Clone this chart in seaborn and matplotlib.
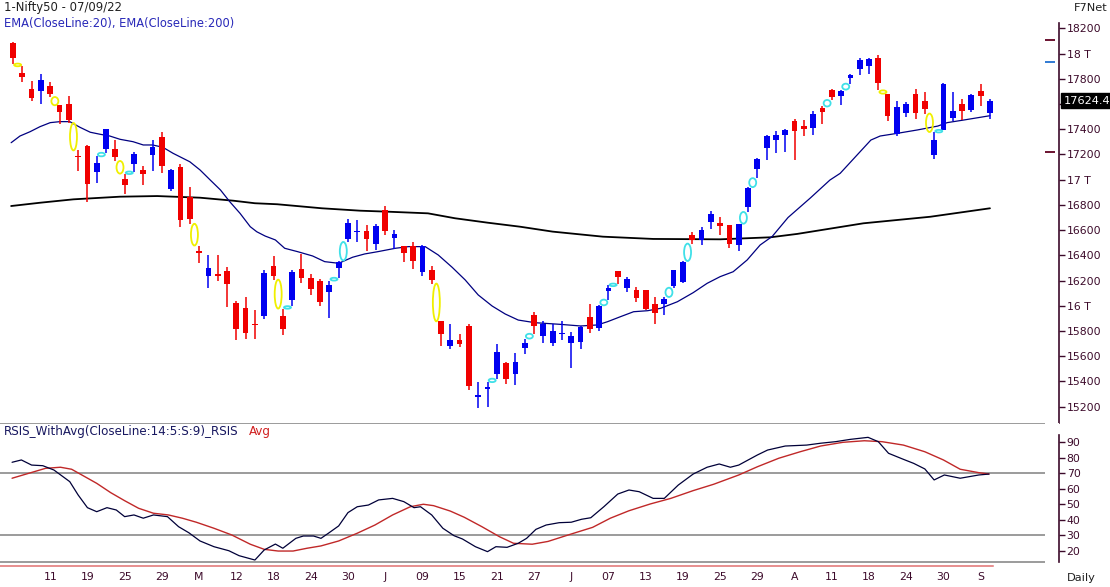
import numpy as np
import matplotlib
matplotlib.use("Agg")
import matplotlib.pyplot as plt
import matplotlib.transforms as mtransforms
from matplotlib.patches import Ellipse
import seaborn as sns

# ---------------- data (Nifty50 daily, 05-Apr-2022 .. 07-Sep-2022) ----------------
opens = [18083, 17845, 17722, 17703, 17740, 17590, 17603, 17188, 17264, 17058,
         17240, 17245, 17008, 17127, 17074, 17193, 17338, 16922, 17101, 16862,
         16431, 16234, 16249, 16275, 16020, 15980, 15853, 15916, 16319, 15916,
         16047, 16290, 16222, 16200, 16109, 16303, 16533, 16588, 16592, 16493,
         16762, 16541, 16471, 16478, 16267, 16287, 15877, 15681, 15732, 15837,
         15277, 15343, 15459, 15543, 15459, 15665, 15930, 15760, 15705, 15777,
         15705, 15713, 15911, 15827, 16117, 16273, 16141, 16128, 16128, 16017,
         16017, 16154, 16188, 16563, 16523, 16664, 16659, 16637, 16485, 16782,
         17087, 17251, 17317, 17357, 17462, 17423, 17409, 17566, 17714, 17663,
         17809, 17880, 17901, 17968, 17682, 17365, 17531, 17682, 17621, 17198,
         17397, 17489, 17597, 17550, 17700, 17528]
highs = [18089, 17899, 17780, 17835, 17774, 17590, 17661, 17232, 17272, 17185,
         17404, 17312, 17048, 17219, 17105, 17317, 17378, 17085, 17125, 16941,
         16478, 16400, 16400, 16306, 16037, 16073, 15968, 16281, 16391, 15978,
         16281, 16414, 16254, 16216, 16200, 16359, 16692, 16682, 16642, 16652,
         16789, 16604, 16478, 16505, 16485, 16319, 15877, 15853, 15780, 15859,
         15395, 15395, 15697, 15554, 15625, 15740, 15953, 15883, 15858, 15877,
         15792, 15843, 16017, 16004, 16162, 16276, 16228, 16149, 16128, 16070,
         16070, 16287, 16355, 16585, 16623, 16749, 16704, 16642, 16651, 16941,
         17171, 17351, 17383, 17399, 17484, 17470, 17542, 17580, 17719, 17714,
         17840, 17964, 17964, 17986, 17682, 17621, 17615, 17722, 17695, 17378,
         17769, 17695, 17637, 17677, 17756, 17642]
lows = [17920, 17774, 17623, 17603, 17655, 17444, 17449, 17068, 16823, 16974,
        17213, 17148, 16884, 17061, 16955, 17068, 17053, 16914, 16624, 16650,
        16340, 16142, 16197, 15990, 15730, 15737, 15737, 15898, 16207, 15766,
        15996, 16182, 16083, 15996, 15905, 16222, 16506, 16506, 16433, 16439,
        16558, 16452, 16347, 16289, 16240, 16176, 15681, 15660, 15673, 15330,
        15189, 15197, 15422, 15377, 15369, 15621, 15778, 15705, 15681, 15730,
        15507, 15660, 15784, 15800, 16049, 16170, 16109, 16028, 15963, 15858,
        15930, 16143, 16180, 16493, 16480, 16612, 16558, 16458, 16432, 16744,
        17012, 17159, 17211, 17219, 17159, 17346, 17357, 17442, 17632, 17589,
        17761, 17833, 17841, 17708, 17465, 17343, 17497, 17478, 17524, 17167,
        17391, 17463, 17470, 17536, 17581, 17484]
closes = [17964, 17814, 17647, 17788, 17676, 17537, 17476, 17180, 16963, 17135,
          17399, 17179, 16955, 17201, 17042, 17256, 17105, 17074, 16677, 16685,
          16423, 16302, 16240, 16169, 15817, 15782, 15845, 16262, 16240, 15813,
          16267, 16222, 16135, 16028, 16168, 16351, 16660, 16593, 16526, 16630,
          16592, 16573, 16418, 16359, 16478, 16208, 15774, 15732, 15694, 15362,
          15296, 15356, 15630, 15422, 15556, 15705, 15840, 15858, 15798, 15785,
          15758, 15835, 15819, 15996, 16141, 16228, 16215, 16061, 15976, 15943,
          16057, 16281, 16347, 16523, 16602, 16725, 16632, 16493, 16645, 16936,
          17161, 17343, 17351, 17391, 17386, 17402, 17523, 17535, 17659, 17700,
          17827, 17946, 17960, 17766, 17502, 17576, 17603, 17528, 17558, 17312,
          17761, 17542, 17544, 17669, 17663, 17624.4]

ema20_x = [-0.2, 0.75, 1.83, 2.9, 4.0, 5.05, 6.1, 7.2, 8.3, 9.35, 10.4, 11.5, 12.9, 14.0, 15.0,
           16.1, 17.2, 19.0, 20.1, 21.2, 22.3, 23.3, 24.4, 25.5, 26.2, 27.1, 28.2, 29.2, 30.6,
           32.2, 33.5, 35.0, 36.5, 37.8, 39.2, 41.1, 42.5, 44.3, 45.7, 47.2, 48.6, 50.0, 51.5,
           52.9, 54.3, 56.1, 58.8, 61.0, 62.8, 63.9, 65.3, 66.7, 68.2, 69.6, 71.4, 73.1, 74.6,
           76.0, 77.4, 78.9, 80.3, 81.6, 83.3, 85.7, 87.8, 88.9, 92.2, 93.2, 95.1, 97.2, 99.4,
           100.4, 102.2, 105.0]
ema20_v = [17293, 17346, 17380, 17420, 17452, 17460, 17460, 17415, 17376, 17360, 17346, 17320,
           17301, 17275, 17275, 17257, 17209, 17142, 17077, 16997, 16918, 16825, 16733, 16627,
           16587, 16553, 16522, 16456, 16429, 16395, 16350, 16337, 16385, 16411, 16429, 16456,
           16469, 16469, 16403, 16305, 16205, 16086, 15998, 15935, 15887, 15866, 15853, 15840,
           15848, 15874, 15914, 15953, 15961, 15980, 16032, 16104, 16178, 16231, 16270, 16363,
           16482, 16550, 16700, 16855, 16997, 17050, 17314, 17346, 17368, 17394, 17425, 17452,
           17473, 17507]

ema200_x = [-0.2, 2.9, 6.5, 11.5, 15.5, 20.1, 23.7, 26.0, 28.4, 33.2, 37.3, 40.3, 44.6, 47.5,
            51.0, 54.5, 58.0, 63.4, 68.8, 76.0, 81.4, 84.3, 91.4, 98.6, 105.0]
ema200_v = [16791, 16817, 16844, 16865, 16870, 16857, 16833, 16813, 16805, 16773, 16754, 16746,
            16733, 16694, 16659, 16627, 16588, 16548, 16530, 16527, 16543, 16570, 16654, 16706,
            16773]

rsi_x = [-0.1, 0.9, 2.0, 3.2, 4.4, 6.1, 7.0, 8.0, 9.0, 10.1, 11.1, 12.0, 13.0, 14.0, 15.1, 16.6,
         17.8, 18.9, 20.1, 21.6, 23.2, 24.3, 26.0, 27.0, 28.2, 29.0, 30.4, 31.2, 32.3, 33.1, 33.9,
         35.0, 36.0, 37.0, 38.2, 39.3, 40.8, 42.0, 43.1, 43.8, 45.0, 46.2, 47.4, 48.3, 49.7, 51.0,
         51.9, 53.1, 54.3, 55.2, 56.2, 57.3, 58.7, 60.0, 61.1, 62.1, 63.5, 65.0, 66.2, 67.3, 68.8,
         70.0, 71.5, 73.1, 74.6, 75.9, 77.1, 78.0, 80.0, 81.1, 83.0, 85.3, 86.8, 88.4, 90.0, 91.9,
         93.0, 94.1, 95.7, 96.8, 98.0, 99.0, 100.1, 101.8, 103.8, 104.9]
rsi_v = [77.1, 78.6, 75.3, 74.9, 72.1, 64.6, 56.0, 47.8, 45.2, 47.8, 46.3, 42.0, 43.1, 41.0, 43.1,
         42.0, 35.5, 31.6, 26.3, 22.6, 20.0, 16.8, 14.0, 20.5, 24.3, 21.6, 28.0, 29.5, 29.5, 28.0,
         31.3, 36.0, 44.6, 48.4, 49.5, 52.8, 53.8, 51.7, 47.8, 48.4, 43.1, 34.5, 29.7, 27.6, 22.6,
         19.4, 22.6, 22.2, 24.8, 28.0, 33.8, 36.6, 38.1, 38.4, 40.3, 41.3, 48.4, 56.6, 59.2, 58.1,
         53.8, 53.8, 62.4, 69.5, 73.9, 76.0, 73.9, 75.3, 81.8, 85.0, 87.6, 88.2, 89.4, 90.4, 91.9,
         93.2, 90.4, 82.9, 79.0, 76.4, 72.8, 65.7, 68.9, 66.8, 68.9, 69.5]

avg_x = [-0.1, 1.7, 3.5, 5.1, 6.3, 7.4, 9.0, 10.5, 12.0, 13.5, 15.1, 16.7, 18.2, 19.7, 21.6, 23.5,
         25.5, 27.0, 28.5, 30.1, 31.6, 33.1, 35.0, 37.0, 38.9, 40.8, 42.7, 44.1, 45.2, 47.0, 48.5,
         50.4, 52.3, 53.8, 55.8, 57.5, 60.0, 62.3, 64.2, 66.2, 68.5, 70.7, 73.1, 75.3, 78.0, 80.0,
         82.3, 84.6, 86.8, 89.2, 91.5, 93.4, 95.7, 98.0, 100.0, 101.8, 103.8, 104.9]
avg_v = [66.8, 70.0, 73.2, 73.9, 72.6, 68.9, 63.5, 57.5, 52.3, 47.4, 44.2, 43.1, 41.0, 38.4, 34.5,
         30.2, 24.2, 20.9, 19.8, 19.8, 21.6, 23.1, 26.3, 31.3, 36.6, 43.1, 48.4, 50.0, 49.1, 45.6,
         41.6, 35.5, 29.0, 24.8, 24.2, 26.0, 30.8, 35.1, 41.0, 45.8, 50.2, 53.8, 58.8, 62.9, 68.9,
         74.2, 79.7, 83.9, 87.6, 90.0, 91.0, 90.4, 88.2, 83.9, 78.6, 72.6, 70.4, 69.5]

x_tick_pos = list(range(4, 105, 4))
x_tick_labels = ["11", "19", "25", "29", "M", "12", "18", "24", "30", "J", "09", "15", "21",
                 "27", "J", "07", "13", "19", "25", "29", "A", "11", "18", "24", "30", "S"]
price_ticks = list(range(15200, 18201, 200))
# the 17600 label sits under the last-price box in the reference, so it is not shown
price_tick_labels = ["" if p == 17600 else (f"{p // 1000} T" if p % 1000 == 0 else str(p))
                     for p in price_ticks]
rsi_ticks = [20, 30, 40, 50, 60, 70, 80, 90]
rsi_levels = [102.3, 70, 30, 12.5]
ref_levels = [18107, 17930, 17222]
ref_colors = ["#600020", "#2070d0", "#600020"]

# ---------------- style ----------------
sns.set_style("white")
plt.rcParams["font.family"] = ["DejaVu Sans"]

BLUE = "#0000f0"
RED = "#f00000"
AXC = "#3c0a2a"
FS = 7.8

W, H = 1110, 587
fig = plt.figure(figsize=(W / 100, H / 100), dpi=100)
fig.patch.set_facecolor("white")

def fx(px):
    return px / W

def fy(py):
    return 1 - py / H

ax = fig.add_axes([0, fy(423), fx(1059), fy(22) - fy(423)])
axr = fig.add_axes([0, fy(566), fx(1059), fy(423) - fy(566)])

XL = (-1.397, 112.42)

# ---------------- candles ----------------
O = np.array(opens, float); Hh = np.array(highs, float)
L = np.array(lows, float); C = np.array(closes, float)
n = len(O)
idx = np.arange(n)
up = C >= O
cols = np.where(up, BLUE, RED)
ax.vlines(idx, L, Hh, colors=cols, linewidth=1.1, zorder=3)
body = np.abs(C - O)
mid = (C + O) / 2
bh = np.maximum(body, 9)
ax.bar(idx, bh, bottom=mid - bh / 2, width=0.62, color=cols, linewidth=0, zorder=4)

# gap markers
for i in range(1, n):
    if L[i] > Hh[i - 1]:
        g0, g1, c = Hh[i - 1], L[i], "#40e0e8"
    elif Hh[i] < L[i - 1]:
        g0, g1, c = Hh[i], L[i - 1], "#f0f000"
    else:
        continue
    e = Ellipse((i - 0.5, (g0 + g1) / 2), width=0.75, height=max(g1 - g0, 20),
                fill=False, edgecolor=c, linewidth=1.3, zorder=5)
    ax.add_patch(e)

sns.lineplot(x=ema200_x, y=ema200_v, ax=ax, color="black", linewidth=1.3, zorder=2)
sns.lineplot(x=ema20_x, y=ema20_v, ax=ax, color="#000080", linewidth=0.9, zorder=2)

ax.set_xlim(*XL)
ax.set_ylim(15070.8, 18249.9)
ax.set_xticks([])
ax.set_xlabel(""); ax.set_ylabel("")
for s in ["top", "left", "bottom"]:
    ax.spines[s].set_visible(False)
ax.spines["right"].set_color(AXC)
ax.spines["right"].set_linewidth(1.2)
ax.spines["right"].set_bounds(15070.8, 18242)
ax.yaxis.tick_right()
ax.set_yticks(price_ticks)
ax.set_yticklabels(price_tick_labels)
ax.tick_params(axis="y", direction="out", length=4, width=1, colors=AXC,
               labelsize=FS, pad=1.5)

ax.hlines(ref_levels, 110.9, 112.0, colors=ref_colors, linewidth=1.3, clip_on=False)

tr = mtransforms.blended_transform_factory(fig.transFigure, ax.transData)
ax.text(fx(1064), closes[-1], f"{closes[-1]:.1f}", transform=tr, color="white",
        fontsize=FS + 0.4, va="center", ha="left", zorder=10,
        bbox=dict(boxstyle="square,pad=0.22", fc="black", ec="black"))

# ---------------- RSI panel ----------------
sns.lineplot(x=avg_x, y=avg_v, ax=axr, color="#c02828", linewidth=1.0, zorder=3)
sns.lineplot(x=rsi_x, y=rsi_v, ax=axr, color="#000038", linewidth=0.9, zorder=4)
axr.hlines(rsi_levels, XL[0], 110.9, colors="#808080", linewidth=1.1, zorder=1)
axr.set_xlim(*XL)
axr.set_ylim(10.14, 102.46)
axr.set_xlabel(""); axr.set_ylabel("")
for s in ["top", "left"]:
    axr.spines[s].set_visible(False)
axr.spines["right"].set_color(AXC)
axr.spines["right"].set_linewidth(1.2)
axr.spines["right"].set_bounds(12.6, 94.7)
axr.spines["bottom"].set_color("#e07070")
axr.spines["bottom"].set_linewidth(1.1)
axr.spines["bottom"].set_bounds(XL[0], 105.3)
axr.yaxis.tick_right()
axr.set_yticks(rsi_ticks)
axr.set_yticklabels([str(t) for t in rsi_ticks])
axr.tick_params(axis="y", direction="out", length=4, width=1, colors=AXC,
                labelsize=FS, pad=1.5)
axr.set_xticks(x_tick_pos)
axr.set_xticklabels(x_tick_labels)
axr.tick_params(axis="x", direction="out", length=3, width=1, color="#e07070",
                labelcolor=AXC, labelsize=FS, pad=1.5)

# ---------------- texts ----------------
fig.text(fx(4), fy(8), "1-Nifty50 - 07/09/22", fontsize=8.4, color="#202020", va="center")
fig.text(fx(4), fy(24), "EMA(CloseLine:20), EMA(CloseLine:200)", fontsize=8.3,
         color="#2828b8", va="center")
fig.text(fx(1074), fy(8), "F7Net", fontsize=8.2, color="#202020", va="center")
fig.text(fx(4), fy(431), "RSIS_WithAvg(CloseLine:14:5:S:9)_RSIS", fontsize=8.6,
         color="#181860", va="center")
fig.text(fx(249), fy(431), "Avg", fontsize=8.6, color="#d02020", va="center")
fig.text(fx(1067), fy(578), "Daily", fontsize=8.2, color="#202020", va="center")

fig.savefig("out.png", dpi=100, facecolor="white")
